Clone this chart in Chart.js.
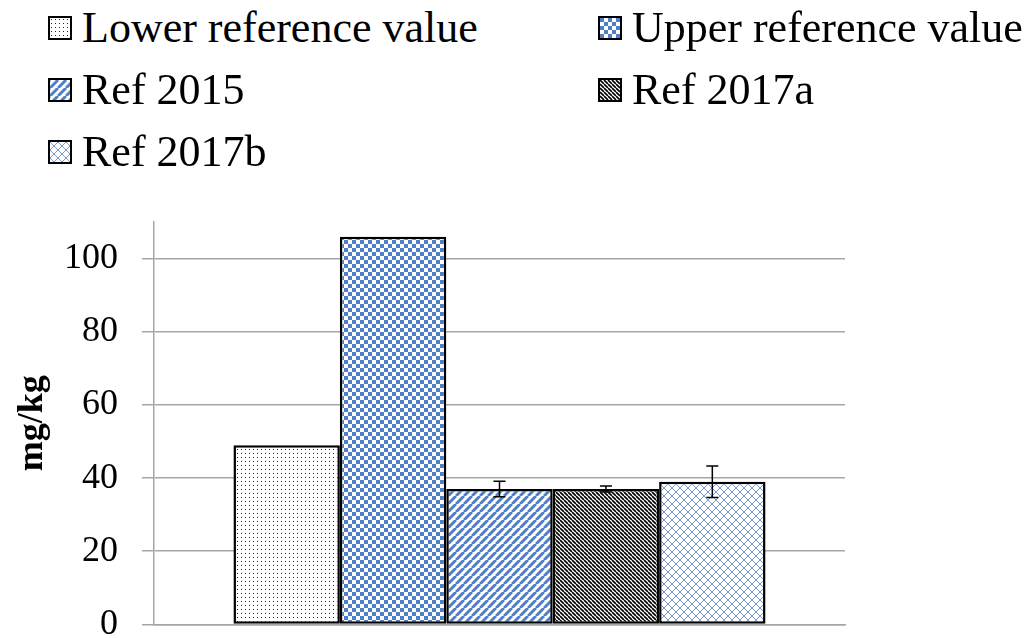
<!DOCTYPE html>
<html>
<head>
<meta charset="utf-8">
<script src="https://cdn.jsdelivr.net/npm/chart.js@4/dist/chart.umd.min.js"></script>
<style>
  body { margin: 0; background: #fff; overflow: hidden; font-family: "Liberation Serif", "Times New Roman", serif; }
  #wrap { position: absolute; left: 0; top: 0; width: 1028px; height: 670px; }
  #legend { position: absolute; left: 48px; top: -3px; display: grid; grid-template-columns: 550px auto; font-size: 44px; line-height: 62px; color: #000; }
  .item { display: flex; align-items: center; white-space: nowrap; }
  .item canvas { width: 20px; height: 20px; border: 2px solid #000; margin-right: 10px; }
</style>
</head>
<body>
<div id="legend"></div>
<div id="wrap"><canvas id="grafico"></canvas></div>
<script>
const categorias = [""];
const series = ["Lower reference value", "Upper reference value", "Ref 2015", "Ref 2017a", "Ref 2017b"];
const valores = [49, 106, 37, 37, 39];
const errores = [null, null, 2.1, 0.8, 4.3];
const ejeMax = 110;
const ejePaso = 20;

const azul = "#4f7fc4";

// tiles for the hatch fills
function tile(size, draw) {
  const c = document.createElement("canvas");
  c.width = c.height = size;
  const g = c.getContext("2d");
  g.fillStyle = "#fff";
  g.fillRect(0, 0, size, size);
  draw(g, size);
  return c;
}

function rayas(g, s, color, ancho, dir) {
  g.strokeStyle = color;
  g.lineWidth = ancho;
  g.beginPath();
  for (let k = -s; k <= s; k += s) {
    if (dir === "/") { g.moveTo(k, s); g.lineTo(k + s, 0); }
    else { g.moveTo(k, 0); g.lineTo(k + s, s); }
  }
  g.stroke();
}

const tiles = [
  tile(4, g => { g.fillStyle = "#222"; g.fillRect(1, 1, 1, 1); }),
  tile(8, g => { g.fillStyle = azul; g.fillRect(0, 0, 4, 4); g.fillRect(4, 4, 4, 4); }),
  tile(8, (g, s) => rayas(g, s, azul, 3, "/")),
  tile(4, (g, s) => rayas(g, s, "#000", 1.6, "\\")),
  tile(8, (g, s) => { rayas(g, s, "#7b9bcf", 1, "/"); rayas(g, s, "#7b9bcf", 1, "\\"); })
];

const ctx = document.getElementById("grafico").getContext("2d");
const patrones = tiles.map(t => ctx.createPattern(t, "repeat"));

// legend in two columns, as in the original
const leyenda = document.getElementById("legend");
series.forEach((nombre, i) => {
  const div = document.createElement("div");
  div.className = "item";
  const sw = document.createElement("canvas");
  sw.width = 20; sw.height = 20;
  const sg = sw.getContext("2d");
  sg.fillStyle = sg.createPattern(tiles[i], "repeat");
  sg.fillRect(0, 0, 20, 20);
  div.appendChild(sw);
  div.appendChild(document.createTextNode(nombre));
  leyenda.appendChild(div);
});

const barrasError = {
  id: "barrasError",
  afterDatasetsDraw(chart) {
    const c = chart.ctx;
    const y = chart.scales.y;
    c.save();
    c.strokeStyle = "#000";
    c.lineWidth = 1.5;
    chart.data.datasets.forEach((ds, i) => {
      const e = errores[i];
      if (e == null) return;
      const bar = chart.getDatasetMeta(i).data[0];
      const v = ds.data[0];
      const y1 = y.getPixelForValue(v + e);
      const y2 = y.getPixelForValue(v - e);
      c.beginPath();
      c.moveTo(bar.x, y1); c.lineTo(bar.x, y2);
      c.moveTo(bar.x - 6, y1); c.lineTo(bar.x + 6, y1);
      c.moveTo(bar.x - 6, y2); c.lineTo(bar.x + 6, y2);
      c.stroke();
    });
    c.restore();
  }
};

new Chart(ctx, {
  type: "bar",
  data: {
    labels: categorias,
    datasets: series.map((nombre, i) => ({
      label: nombre,
      data: [valores[i]],
      backgroundColor: patrones[i],
      borderColor: "#000",
      borderWidth: 2.5,
      borderSkipped: false
    }))
  },
  options: {
    responsive: true,
    maintainAspectRatio: false,
    animation: false,
    categoryPercentage: 0.77,
    barPercentage: 1,
    layout: { padding: { top: 222, right: 183, left: 10, bottom: 0 } },
    plugins: { legend: { display: false }, tooltip: { enabled: false } },
    scales: {
      x: {
        ticks: { display: false },
        grid: { display: false },
        border: { display: true, color: "#a6a6a6", width: 1.5 }
      },
      y: {
        min: 0,
        max: ejeMax,
        afterBuildTicks: s => { s.ticks = s.ticks.filter(t => t.value <= 100); },
        afterFit: s => { s.width = 144; },
        ticks: { stepSize: ejePaso, color: "#000", padding: 24, font: { family: "Liberation Serif", size: 36 } },
        grid: { color: "#a6a6a6", lineWidth: 1.5, tickLength: 12 },
        border: { color: "#a6a6a6", width: 1.5 },
        title: {
          display: true,
          text: "mg/kg",
          color: "#000",
          padding: { top: 1, bottom: 10 },
          font: { family: "Liberation Serif", size: 36, weight: "bold" }
        }
      }
    }
  },
  plugins: [barrasError]
});
</script>
</body>
</html>
